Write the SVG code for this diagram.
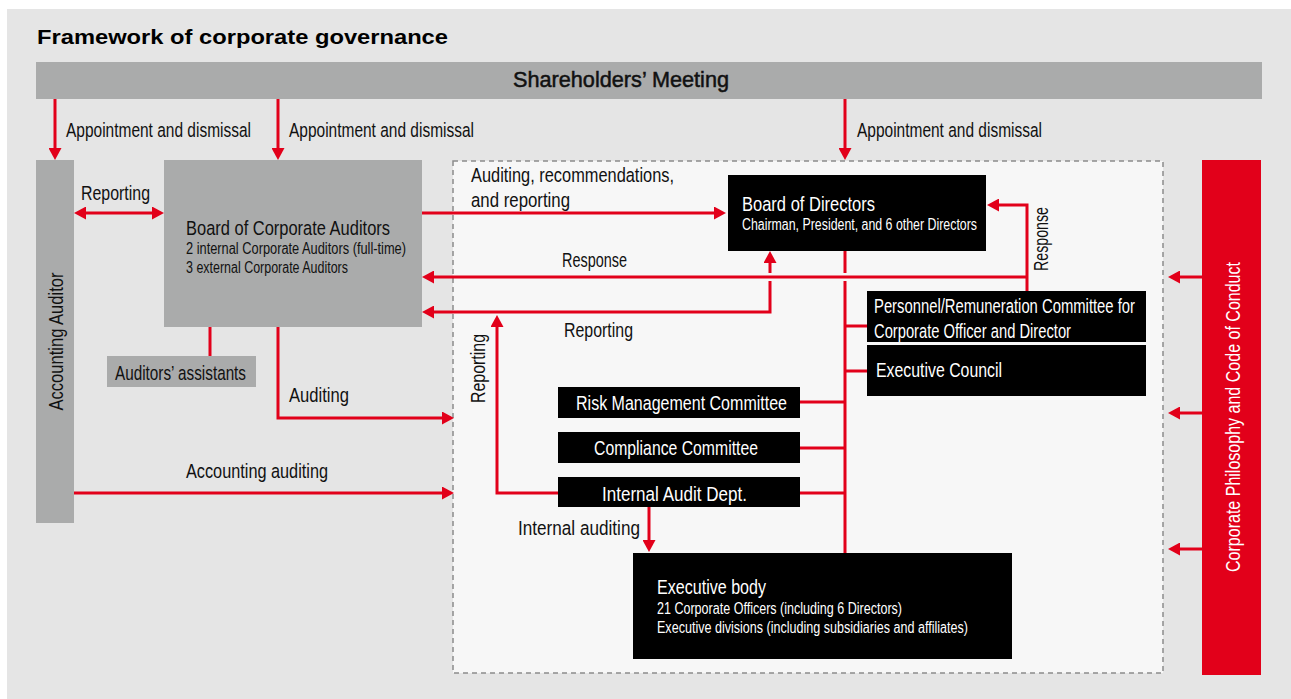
<svg xmlns="http://www.w3.org/2000/svg" width="1291" height="699" viewBox="0 0 1291 699">
  <style>
    text { font-family: "Liberation Sans", Arial, sans-serif; fill: #111; }
    .t { font-size: 20.5px; }
    .s { font-size: 16px; }
    .w { fill: #fff; }
    .title { font-size: 20px; font-weight: bold; fill: #000; }
    .head { font-size: 22px; stroke: #111; stroke-width: 0.5; }
    .wire { stroke: #e2001a; stroke-width: 3; fill: none; }
    .arr { marker-end: url(#tip); }
    .gray { fill: #aaabab; }
    .dark { fill: #000; }
  </style>
  <defs>
    <marker id="tip" viewBox="0 0 12 13" refX="5" refY="6.5" markerWidth="12" markerHeight="13" markerUnits="userSpaceOnUse" orient="auto-start-reverse">
      <path d="M0,0 L12,6.5 L0,13 z" fill="#e2001a"/>
    </marker>
  </defs>

  <!-- background panel -->
  <rect x="7" y="9" width="1284" height="690" fill="#e5e5e5"/>
  <text class="title" x="37" y="44" textLength="411" lengthAdjust="spacingAndGlyphs">Framework of corporate governance</text>

  <!-- executive area -->
  <rect id="executive-area" x="453" y="161" width="710" height="512" fill="#f7f7f7" stroke="#8c8c8c" stroke-width="1.5" stroke-dasharray="5 4"/>

  <g id="shareholders">
    <rect class="gray" x="36" y="62" width="1226" height="37"/>
    <text class="head" x="513" y="87" textLength="216" lengthAdjust="spacingAndGlyphs">Shareholders’ Meeting</text>
  </g>

  <g id="accounting-auditor">
    <rect class="gray" x="36" y="160" width="38" height="363"/>
    <text class="t" transform="translate(63,341.5) rotate(-90)" text-anchor="middle" textLength="138" lengthAdjust="spacingAndGlyphs">Accounting Auditor</text>
  </g>

  <g id="board-auditors">
    <rect class="gray" x="164" y="160" width="258" height="167"/>
    <text class="t" x="186" y="235" textLength="204" lengthAdjust="spacingAndGlyphs">Board of Corporate Auditors</text>
    <text class="s" x="186" y="254" textLength="220" lengthAdjust="spacingAndGlyphs">2 internal Corporate Auditors (full-time)</text>
    <text class="s" x="186" y="273" textLength="162" lengthAdjust="spacingAndGlyphs">3 external Corporate Auditors</text>
  </g>

  <g id="auditors-assistants">
    <rect class="gray" x="107" y="356" width="149" height="31"/>
    <text class="t" x="115" y="380" textLength="131" lengthAdjust="spacingAndGlyphs">Auditors’ assistants</text>
  </g>

  <g id="board-directors">
    <rect class="dark" x="728" y="175" width="258" height="76"/>
    <text class="t w" x="742" y="211" textLength="133" lengthAdjust="spacingAndGlyphs">Board of Directors</text>
    <text class="s w" x="742" y="230" textLength="235" lengthAdjust="spacingAndGlyphs">Chairman, President, and 6 other Directors</text>
  </g>

  <g id="personnel-committee">
    <rect class="dark" x="867" y="291" width="279" height="51"/>
    <text class="t w" x="874" y="313" textLength="261" lengthAdjust="spacingAndGlyphs">Personnel/Remuneration Committee for</text>
    <text class="t w" x="874" y="338" textLength="197" lengthAdjust="spacingAndGlyphs">Corporate Officer and Director</text>
  </g>

  <g id="executive-council">
    <rect class="dark" x="867" y="345" width="279" height="51"/>
    <text class="t w" x="876" y="377" textLength="126" lengthAdjust="spacingAndGlyphs">Executive Council</text>
  </g>

  <g id="risk-committee">
    <rect class="dark" x="558" y="387" width="242" height="31"/>
    <text class="t w" x="576" y="410" textLength="211" lengthAdjust="spacingAndGlyphs">Risk Management Committee</text>
  </g>

  <g id="compliance-committee">
    <rect class="dark" x="558" y="432" width="242" height="31"/>
    <text class="t w" x="594" y="455" textLength="164" lengthAdjust="spacingAndGlyphs">Compliance Committee</text>
  </g>

  <g id="internal-audit">
    <rect class="dark" x="558" y="477" width="242" height="30"/>
    <text class="t w" x="602" y="501" textLength="145" lengthAdjust="spacingAndGlyphs">Internal Audit Dept.</text>
  </g>

  <g id="executive-body">
    <rect class="dark" x="633" y="553" width="379" height="106"/>
    <text class="t w" x="657" y="594" textLength="109" lengthAdjust="spacingAndGlyphs">Executive body</text>
    <text class="s w" x="657" y="614" textLength="245" lengthAdjust="spacingAndGlyphs">21 Corporate Officers (including 6 Directors)</text>
    <text class="s w" x="657" y="633" textLength="311" lengthAdjust="spacingAndGlyphs">Executive divisions (including subsidiaries and affiliates)</text>
  </g>

  <g id="corporate-philosophy">
    <rect x="1202" y="160" width="59" height="515" fill="#e2001a"/>
    <text class="t w" transform="translate(1240,417) rotate(-90)" text-anchor="middle" textLength="310" lengthAdjust="spacingAndGlyphs">Corporate Philosophy and Code of Conduct</text>
  </g>

  <g id="connectors">
    <!-- appointment and dismissal -->
    <path class="wire arr" d="M55,99 V153"/>
    <path class="wire arr" d="M278,99 V153"/>
    <path class="wire arr" d="M845,99 V153"/>
    <!-- reporting between accounting auditor and corporate auditors -->
    <path class="wire" d="M81,213 H157" marker-start="url(#tip)" marker-end="url(#tip)"/>
    <!-- auditing, recommendations, and reporting -->
    <path class="wire arr" d="M422,213 H719"/>
    <!-- response from the committee -->
    <path class="wire arr" d="M1027,291 V205 H994"/>
    <path class="wire arr" d="M1027,277 H429"/>
    <!-- reporting from board of directors -->
    <path class="wire arr" d="M770,281 V312 H429"/>
    <path class="wire arr" d="M770,273 V258"/>
    <!-- main trunk under board of directors -->
    <path class="wire" d="M845,251 V273 M845,281 V553"/>
    <path class="wire" d="M845,326 H867 M845,371 H867"/>
    <path class="wire" d="M800,402 H845 M800,448 H845 M800,493 H845"/>
    <!-- internal audit reporting and auditing -->
    <path class="wire arr" d="M558,493 H497 V322"/>
    <path class="wire arr" d="M649,507 V545"/>
    <!-- auditing by corporate auditors -->
    <path class="wire arr" d="M278,327 V418 H447"/>
    <path class="wire" d="M210,327 V356"/>
    <!-- accounting auditing -->
    <path class="wire arr" d="M74,493 H447"/>
    <!-- corporate philosophy -->
    <path class="wire arr" d="M1202,277 H1175"/>
    <path class="wire arr" d="M1202,413 H1175"/>
    <path class="wire arr" d="M1202,549 H1175"/>
  </g>

  <g id="labels">
    <text class="t" x="66" y="137" textLength="185" lengthAdjust="spacingAndGlyphs">Appointment and dismissal</text>
    <text class="t" x="289" y="137" textLength="185" lengthAdjust="spacingAndGlyphs">Appointment and dismissal</text>
    <text class="t" x="857" y="137" textLength="185" lengthAdjust="spacingAndGlyphs">Appointment and dismissal</text>
    <text class="t" x="81" y="200" textLength="69" lengthAdjust="spacingAndGlyphs">Reporting</text>
    <text class="t" x="471" y="182" textLength="203" lengthAdjust="spacingAndGlyphs">Auditing, recommendations,</text>
    <text class="t" x="471" y="207" textLength="99" lengthAdjust="spacingAndGlyphs">and reporting</text>
    <text class="t" x="562" y="267" textLength="65" lengthAdjust="spacingAndGlyphs">Response</text>
    <text class="t" x="564" y="337" textLength="69" lengthAdjust="spacingAndGlyphs">Reporting</text>
    <text class="t" transform="translate(1048,239) rotate(-90)" text-anchor="middle" textLength="64" lengthAdjust="spacingAndGlyphs">Response</text>
    <text class="t" transform="translate(485,368.5) rotate(-90)" text-anchor="middle" textLength="69" lengthAdjust="spacingAndGlyphs">Reporting</text>
    <text class="t" x="289" y="402" textLength="60" lengthAdjust="spacingAndGlyphs">Auditing</text>
    <text class="t" x="186" y="478" textLength="142" lengthAdjust="spacingAndGlyphs">Accounting auditing</text>
    <text class="t" x="518" y="535" textLength="122" lengthAdjust="spacingAndGlyphs">Internal auditing</text>
  </g>
</svg>
